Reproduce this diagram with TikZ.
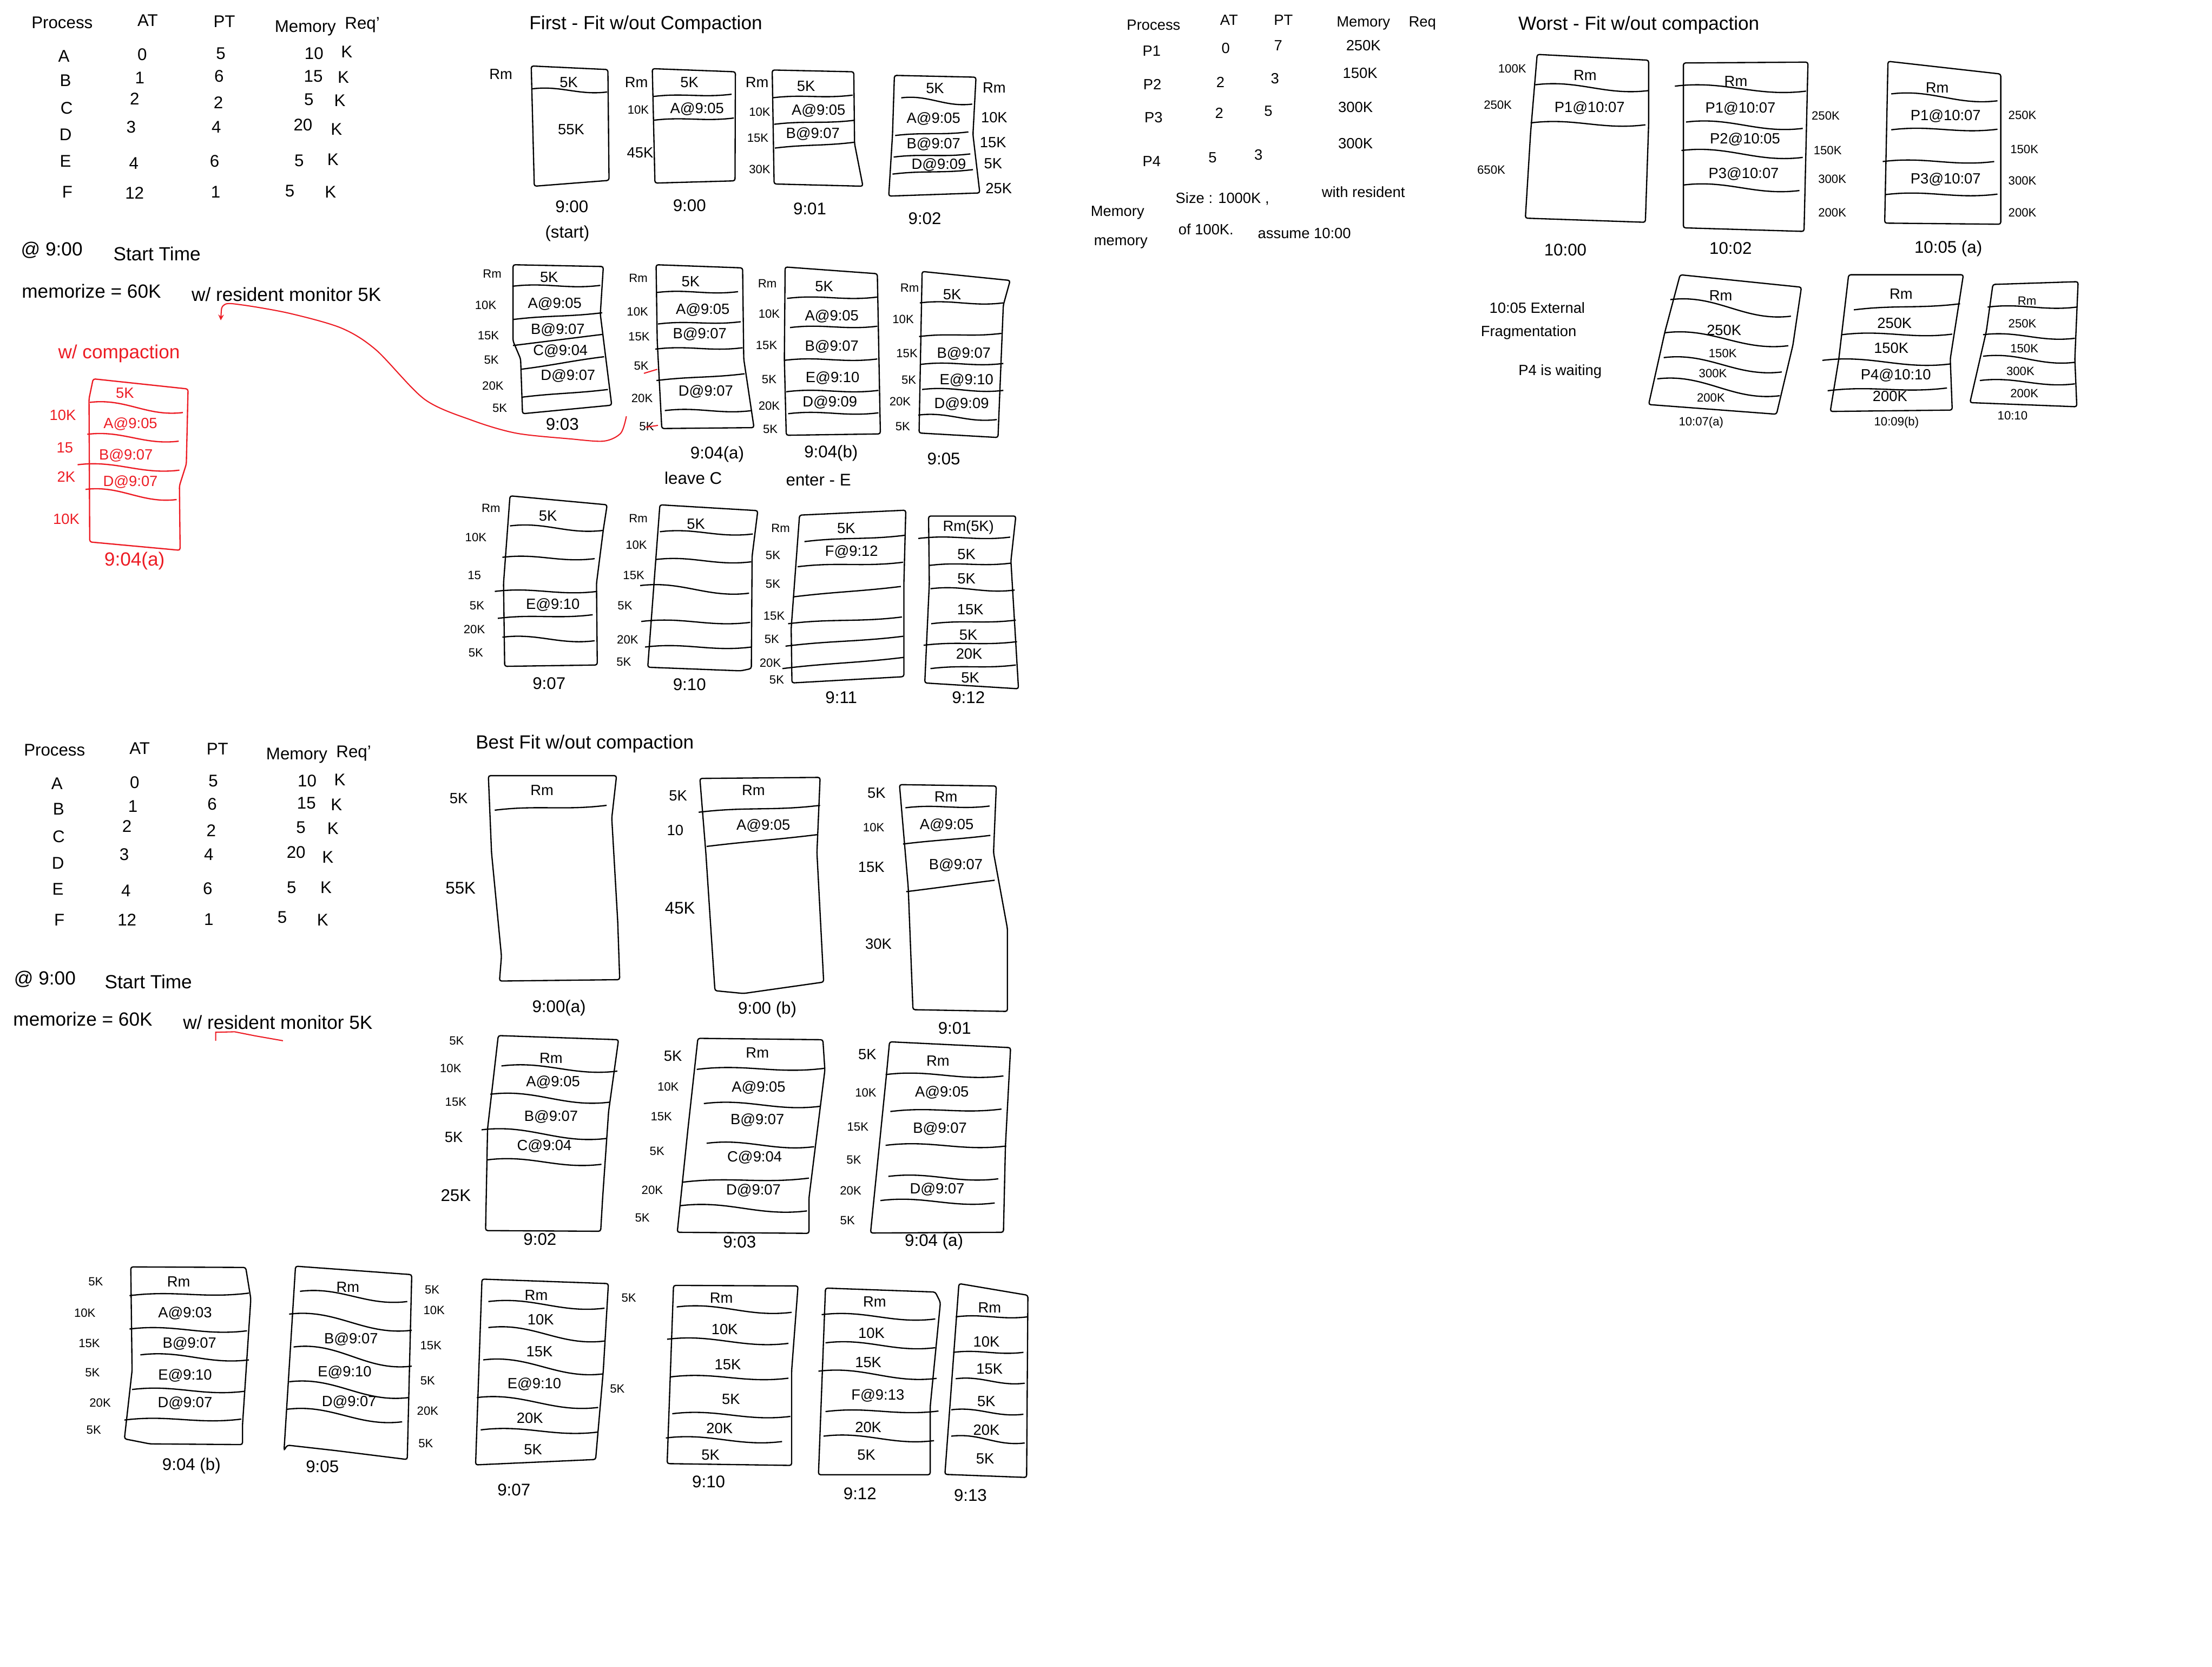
\documentclass[tikz,border=0pt]{standalone}
\usepackage{fontspec}
\setmainfont{Liberation Sans}
\usetikzlibrary{arrows}
\definecolor{penred}{RGB}{237,28,36}
\newcommand{\memstack}[2]{%
  \draw[stackline] #1 -- cycle;
  \foreach \xa/\ya/\xb/\yb in {#2} \draw[stackline] (\xa,\ya) to[out=7,in=187] (\xb,\yb);
}
\newcommand{\handlabels}[2]{%
  \foreach \x/\y/\t in {#2} \node[#1] (lab\x-\y) at (\x,\y) {\t};
}

\begin{document}
\begin{tikzpicture}[
  x=1pt,y=-1pt,
  sheet/.style n args={4}{shift={(#1,#2)},x=#3pt,y=-#4pt},
  stackline/.style={line width=.9pt,rounded corners=1.5pt},
  hand/.style={inner sep=0pt,font=\fontsize{10.5}{12}\selectfont},
  handsmall/.style={inner sep=0pt,font=\fontsize{8.5}{10}\selectfont},
  handtime/.style={inner sep=0pt,font=\fontsize{12}{14}\selectfont},
  handbig/.style={inner sep=0pt,font=\fontsize{13.5}{16}\selectfont}
]
  \useasboundingbox[fill=white] (0,0) rectangle (1568,1181.3);

  \begin{scope}[sheet={0}{0}{.2446}{.2569}]
    \handlabels{handtime}{180/62/Process,428/57/AT,650/60/PT,885/78/Memory,1050/68/Req',
      185/155/A,412/150/0,640/148/5,910/148/10,1005/143/K,
      190/222/B,405/215/1,635/210/6,908/210/15,995/213/K,
      193/298/C,390/272/2,633/283/2,895/275/5,985/278/K,
      190/372/D,380/350/3,627/350/4,878/345/20,975/357/K,
      190/445/E,388/450/4,622/445/6,867/443/5,965/440/K,
      195/530/F,390/532/12,625/530/1,840/527/5,958/530/K}
    \handlabels{handbig}{150/690/@ 9:00,455/700/Start Time,265/803/memorize = 60K,830/812/{w/ resident monitor 5K}}
    \begin{scope}[penred]
      \handlabels{handbig}{345/975/{w/ compaction},390/1548/9:04(a)}
      \handlabels{hand}{362/1085/5K,182/1145/10K,378/1170/A@9:05,188/1235/15,
        365/1257/B@9:07,192/1315/2K,378/1330/D@9:07,192/1432/10K}
      \memstack{(270,1045)--(545,1073)--(540,1280)--(520,1340)--(522,1518)--(260,1495)--(258,1100)}
        {260/1110/530/1138,253/1198/518/1217,225/1282/520/1297,248/1350/512/1378}
    \end{scope}
  \end{scope}
  \draw[penred,line width=.8pt,stealth-] plot[smooth,tension=.5] coordinates {(156.5,227) (159,216) (171,216) (205,222)
    (242,232.5) (266.6,248) (301,283) (335,298) (366,307) (404,311) (428,312.6) (440,307) (444,295)};

  \begin{scope}[sheet={326}{0}{.269}{.318}]
    \handlabels{handbig}{490/55/{First - Fit  w/out Compaction}}
    \memstack{(188,147)--(390,155)--(393,402)--(196,415)}{190/198/388/205}
    \memstack{(507,153)--(726,160)--(725,403)--(514,408)}{510/215/716/210,510/268/722/263}
    \memstack{(823,156)--(1038,160)--(1040,320)--(1062,415)--(828,410)}{823/218/1035/212,828/277/1040/268,830/330/1040/317}
    \memstack{(1145,168)--(1360,172)--(1352,300)--(1370,430)--(1130,437)--(1140,300)}
      {1163/218/1350/232,1147/302/1340/294,1143/350/1345/343,1140/388/1352/378}
    \memstack{(140,590)--(378,594)--(370,700)--(400,903)--(165,922)--(160,800)--(140,760)}
      {138/638/370/636,140/712/375/697,140/770/378/745,160/823/380/795,165/885/390/868}
    \memstack{(517,590)--(745,597)--(748,800)--(775,953)--(532,955)--(520,760)}
      {517/652/733/650,522/722/740/717,515/778/745/775,518/848/750/833,540/915/770/915}
    \memstack{(857,595)--(1100,610)--(1108,967)--(860,970)--(855,800)}
      {862/665/1100/662,870/730/1100/727,855/803/1100/800,860/873/1103/870,865/922/1103/920}
    \memstack{(1218,605)--(1450,625)--(1432,680)--(1418,975)--(1210,965)}
      {1212/675/1432/675,1210/750/1427/743,1215/812/1432/810,1218/868/1432/870,1208/925/1415/935}
    \memstack{(132,1105)--(388,1125)--(378,1180)--(360,1300)--(362,1482)--(118,1485)--(115,1300)}
      {132/1172/378/1182,112/1242/355/1245,92/1318/362/1318,100/1378/350/1370,112/1420/355/1428}
    \memstack{(527,1125)--(785,1138)--(770,1240)--(768,1490)--(740,1495)--(495,1487)}
      {527/1185/772/1190,515/1247/768/1252,475/1305/762/1322,478/1385/765/1387,488/1442/768/1442}
    \memstack{(895,1148)--(1175,1137)--(1170,1300)--(1170,1508)--(875,1522)--(873,1400)}
      {908/1207/1172/1193,890/1263/1168/1253,880/1330/1162/1307,865/1390/1165/1375,858/1440/1168/1418,850/1490/1170/1465}
    \memstack{(1235,1150)--(1465,1150)--(1452,1250)--(1472,1535)--(1225,1522)--(1237,1300)}
      {1208/1200/1450/1197,1238/1260/1452/1255,1240/1312/1462/1315,1242/1390/1465/1382,1222/1438/1468/1430,1240/1490/1465/1482}
    \handlabels{hand}{108/165/Rm,287/183/5K,293/288/55K,465/183/Rm,605/183/5K,625/243/A@9:05,475/340/45K,
      783/183/Rm,912/192/5K,945/247/A@9:05,930/298/B@9:07,1252/197/5K,1408/195/Rm,1248/265/A@9:05,1408/262/10K,
      1248/322/B@9:07,1405/317/15K,1262/367/D@9:09,1405/365/5K,1420/420/25K,
      235/618/5K,250/677/A@9:05,258/735/B@9:07,265/782/C@9:04,285/838/D@9:07,
      608/628/5K,640/690/A@9:05,632/745/B@9:07,648/873/D@9:07,
      960/638/5K,980/705/A@9:05,980/772/B@9:07,982/843/E@9:10,975/897/D@9:09,
      1297/657/5K,1328/788/B@9:07,1335/847/E@9:10,1322/900/D@9:09,
      232/1150/5K,245/1348/E@9:10,622/1168/5K,1018/1178/5K,1032/1230/F@9:12,
      1340/1175/Rm(5K),1335/1235/5K,1335/1290/5K,1345/1358/15K,1340/1415/5K,1342/1457/20K,1345/1510/5K}
    \handlabels{handsmall}{470/245/10K,790/250/10K,785/307/15K,790/377/30K,
      85/610/Rm,68/680/10K,75/748/15K,83/802/5K,87/860/20K,105/910/5K,
      470/620/Rm,468/695/10K,472/750/15K,478/815/5K,480/888/20K,492/950/5K,
      810/632/Rm,815/700/10K,808/770/15K,815/845/5K,815/905/20K,818/957/5K,
      1185/642/Rm,1168/712/10K,1178/788/15K,1183/847/5K,1160/895/20K,1167/950/5K,
      82/1133/Rm,42/1198/10K,38/1282/15,45/1350/5K,38/1403/20K,42/1455/5K,
      470/1155/Rm,465/1215/10K,458/1282/15K,435/1350/5K,442/1425/20K,432/1475/5K,
      845/1177/Rm,825/1237/5K,825/1302/5K,828/1372/15K,822/1425/5K,818/1478/20K,835/1515/5K}
    \handlabels{handtime}{295/460/9:00,283/520/(start),605/458/9:00,922/465/9:01,1225/487/9:02,
      270/945/9:03,678/1012/9:04(a),615/1065/leave C,978/1010/9:04(b),945/1070/enter - E,1275/1022/9:05,
      235/1523/9:07,605/1525/9:10,1005/1555/9:11,1340/1555/9:12}
    \draw[penred,line width=.8pt] (485,832) -- (520,823) (490,952) -- (522,948);
  \end{scope}

  \begin{scope}[sheet={748}{0}{.4648}{.1957}]
    \handlabels{hand}{150/90/Process,265/72/AT,348/72/PT,470/85/Memory,560/85/Req,
      147/185/P1,260/175/0,340/165/7,470/165/250K,148/305/P2,252/298/2,335/285/3,465/265/150K,
      150/425/P3,250/410/2,325/402/5,458/388/300K,147/585/P4,240/570/5,310/560/3,458/520/300K,
      95/770/Memory,255/720/{Size : 1000K ,},470/695/with resident,100/880/memory,230/830/of 100K.,380/845/assume 10:00,
      735/1115/10:05 External,722/1205/Fragmentation,770/1345/P4 is waiting}
    \handlabels{handbig}{890/90/{Worst - Fit  w/out compaction}}
    \memstack{(735,197)--(905,218)--(905,450)--(900,805)--(717,790)--(725,480)}{732/307/905/328,725/445/900/452}
    \memstack{(958,228)--(1148,225)--(1142,838)--(958,825)}{945/312/1145/330,962/442/1140/465,955/545/1140/570,958/670/1135/690}
    \memstack{(1270,222)--(1442,268)--(1442,812)--(1265,808)}{1275/340/1437/365,1275/470/1437/468,1262/585/1432/585,1265/705/1437/703}
    \memstack{(953,995)--(1138,1040)--(1125,1250)--(1100,1500)--(905,1465)--(930,1200)}{938/1085/1122/1145,930/1205/1118/1252,928/1295/1108/1347,918/1372/1105/1433}
    \memstack{(1210,995)--(1385,995)--(1365,1300)--(1368,1485)--(1182,1490)--(1195,1300)}{1218/1122/1380/1100,1200/1212/1368/1210,1170/1305/1365/1318,1178/1415/1360/1405}
    \memstack{(1430,1030)--(1560,1020)--(1555,1300)--(1558,1473)--(1395,1458)--(1420,1200)}{1422/1112/1558/1112,1415/1212/1555/1225,1415/1290/1555/1312,1410/1378/1555/1390}
    \handlabels{hand}{808/272/Rm,815/390/P1@10:07,1038/295/Rm,1045/393/P1@10:07,1052/505/P2@10:05,1050/630/P3@10:07,
      1345/318/Rm,1358/420/P1@10:07,1358/650/P3@10:07,1015/1070/Rm,1020/1195/250K,1290/1065/Rm,1280/1170/250K,
      1275/1260/150K,1282/1360/P4@10:10,1273/1435/200K}
    \handlabels{handsmall}{697/248/100K,675/380/250K,665/615/650K,1175/420/250K,1178/545/150K,1185/648/300K,1185/770/200K,
      1475/418/250K,1478/540/150K,1475/655/300K,1475/770/200K,1018/1280/150K,1003/1353/300K,1000/1440/200K,
      1482/1090/Rm,1475/1172/250K,1478/1262/150K,1472/1345/300K,1478/1425/200K,
      985/1530/10:07(a),1283/1530/10:09(b),1460/1505/10:10}
    \handlabels{handtime}{778/905/10:00,1030/900/10:02,1362/900/10:05 (a)}
  \end{scope}

  \begin{scope}[sheet={0}{498.7}{.2446}{.1712}]
    \handlabels{handtime}{158/192/Process,405/185/AT,630/188/PT,860/215/Memory,1025/205/Req',
      165/330/A,390/325/0,618/320/5,890/320/10,985/315/K,170/435/B,385/425/1,615/415/6,888/412/15,975/418/K,
      170/550/C,368/508/2,612/525/2,872/512/5,965/517/K,168/660/D,360/625/3,605/625/4,858/615/20,950/635/K,
      168/768/E,365/775/4,602/765/6,845/762/5,945/760/K,172/895/F,368/895/12,605/892/1,818/885/5,935/895/K}
    \handlabels{handbig}{130/1140/@ 9:00,430/1150/Start Time,240/1305/memorize = 60K,805/1320/{w/ resident monitor 5K}}
    \draw[penred,line width=.8pt] (625,1395) -- (625,1360) -- (680,1358) -- (740,1375) -- (820,1395);
  \end{scope}

  \begin{scope}[sheet={299.2}{506.4}{.2813}{.2446}]
    \handlabels{handbig}{410/85/{Best Fit  w/out  compaction}}
    \memstack{(167,177)--(490,177)--(478,300)--(493,600)--(498,768)--(195,772)--(200,700)--(175,400)}{183/277/465/263}
    \memstack{(700,185)--(1003,182)--(995,400)--(1012,775)--(810,808)--(738,800)--(715,400)}{697/283/1003/263,717/382/995/348}
    \memstack{(1203,203)--(1447,207)--(1440,400)--(1475,620)--(1475,860)--(1237,855)--(1225,500)}{1218/270/1430/265,1212/375/1432/350,1220/513/1443/480}
    \memstack{(192,930)--(495,942)--(470,1150)--(455,1400)--(450,1497)--(160,1495)--(165,1200)}{200/1018/492/1033,172/1100/472/1123,150/1203/465/1228,165/1290/452/1303}
    \memstack{(695,938)--(1010,942)--(1015,1030)--(975,1400)--(975,1503)--(643,1500)--(670,1200)}{692/1028/1013/1025,710/1127/1003/1135,717/1242/988/1252,655/1355/975/1343,650/1423/970/1438}
    \memstack{(1178,948)--(1483,965)--(1470,1250)--(1465,1500)--(1130,1502)--(1170,1045)}{1168/1043/1465/1047,1180/1150/1460/1143,1168/1248/1472/1250,1175/1338/1452/1345,1155/1408/1443/1415}
    \handlabels{hand}{92/243/5K,302/220/Rm,645/235/5K,835/220/Rm,638/335/10,860/322/A@9:05,
      1145/228/5K,1320/238/Rm,1322/320/A@9:05,1132/442/15K,1345/437/B@9:07,1150/665/30K,
      325/995/Rm,330/1065/A@9:05,325/1165/B@9:07,80/1225/5K,308/1250/C@9:04,
      632/990/5K,845/980/Rm,848/1080/A@9:05,845/1175/B@9:07,838/1283/C@9:04,835/1378/D@9:07,
      1122/985/5K,1300/1003/Rm,1310/1095/A@9:05,1305/1200/B@9:07,1298/1375/D@9:07}
    \handlabels{handsmall}{1138/327/10K,87/945/5K,72/1025/10K,85/1122/15K,620/1078/10K,603/1165/15K,592/1265/5K,
      580/1378/20K,555/1458/5K,1118/1095/10K,1098/1195/15K,1088/1290/5K,1080/1380/20K,1072/1465/5K}
    \handlabels{handtime}{97/503/55K,650/560/45K,85/1393/25K,345/850/9:00(a),870/855/9:00 (b),1342/908/9:01,
      297/1520/9:02,800/1528/9:03,1290/1528/9:04 (a)}
  \end{scope}

  \begin{scope}[sheet={38.4}{882.3}{.4526}{.1272}]
    \memstack{(120,122)--(300,125)--(308,300)--(295,1000)--(295,1112)--(150,1108)--(110,1080)--(122,700)}
      {118/282/305/268,118/468/302/478,135/612/305/640,122/805/298/815,110/975/293/970}
    \memstack{(378,118)--(560,165)--(553,1195)--(440,1145)--(365,1115)--(360,1145)}
      {385/258/553/315,368/385/560/475,375/568/560/675,368/762/555/850,365/915/545/985}
    \memstack{(670,190)--(868,215)--(860,700)--(848,1195)--(660,1225)}
      {680/315/862/352,680/460/862/535,672/640/860/718,662/850/852/905,668/1030/852/1042}
    \memstack{(970,225)--(1165,228)--(1155,700)--(1155,1228)--(960,1218)}
      {975/345/1155/375,960/525/1150/548,965/735/1150/742,968/940/1153/955,958/1075/1140/1095}
    \memstack{(1208,240)--(1380,262)--(1388,320)--(1372,900)--(1372,1280)--(1197,1280)}
      {1202/388/1380/412,1208/545/1380/572,1197/703/1382/743,1208/928/1385/925,1205/1065/1378/1090}
    \memstack{(1417,215)--(1525,280)--(1523,1295)--(1395,1278)}
      {1412/400/1525/400,1408/598/1518/598,1412/745/1520/770,1405/918/1518/943,1405/1065/1520/1103}
    \handlabels{hand}{195/205/Rm,205/380/A@9:03,212/550/B@9:07,205/728/E@9:10,205/880/D@9:07,
      460/235/Rm,465/525/B@9:07,455/710/E@9:10,462/875/D@9:07,
      755/280/Rm,762/415/10K,760/595/15K,752/775/E@9:10,745/965/20K,750/1140/5K,
      1045/295/Rm,1050/470/10K,1055/665/15K,1060/860/5K,1042/1020/20K,1028/1170/5K,
      1285/315/Rm,1280/490/10K,1275/655/15K,1290/840/F@9:13,1275/1015/20K,1272/1170/5K,
      1465/350/Rm,1460/540/10K,1465/690/15K,1460/870/5K,1460/1030/20K,1458/1190/5K}
    \handlabels{handsmall}{65/205/5K,48/378/10K,55/548/15K,60/712/5K,72/880/20K,62/1030/5K,
      592/250/5K,595/365/10K,590/560/15K,585/755/5K,585/925/20K,582/1105/5K,900/295/5K,882/800/5K}
    \handlabels{handtime}{215/1232/9:04 (b),420/1235/9:05,720/1365/9:07,1025/1320/9:10,1262/1385/9:12,1435/1395/9:13}
  \end{scope}
\end{tikzpicture}
\end{document}
